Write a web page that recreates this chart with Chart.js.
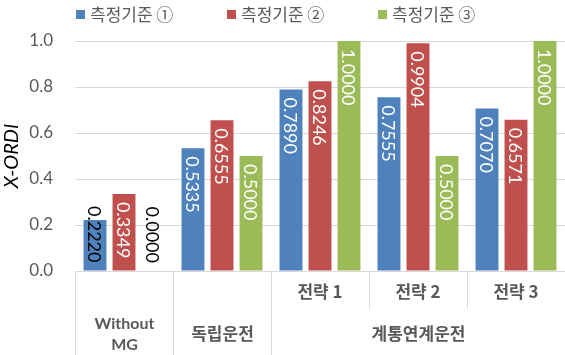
<!DOCTYPE html>
<html>
<head>
<meta charset="utf-8">
<script src="https://cdn.jsdelivr.net/npm/chart.js@4.4.1/dist/chart.umd.min.js"></script>
<style>
  html, body { margin: 0; padding: 0; background: #fff; }
  #wrap { width: 565px; height: 355px; }
</style>
</head>
<body>
<div id="wrap"><canvas id="chart"></canvas></div>
<script>
// chart data
const categories = ['Without MG', '독립운전', '전략 1', '전략 2', '전략 3'];
const topLabels = ['', '', '전략 1', '전략 2', '전략 3'];
const groupNames = [['Without', 'MG'], ['독립운전'], ['계통연계운전']];
const groupSpans = [1, 1, 3];
const seriesNames = ['측정기준 ①', '측정기준 ②', '측정기준 ③'];
const series1 = [0.2220, 0.5335, 0.7890, 0.7555, 0.7070];
const series2 = [0.3349, 0.6555, 0.8246, 0.9904, 0.6571];
const series3 = [0.0000, 0.5000, 1.0000, 0.5000, 1.0000];
const colors = ['#4f81bd', '#c0504d', '#9bbb59'];

const numFont = 'Lato, "Noto Sans CJK KR", sans-serif';
const krFont = '"Noto Sans CJK KR", sans-serif';
const gray = '#595959';
const lineColor = '#d9d9d9';

// value labels, rotated, near the top of each bar
const barLabels = {
  id: 'barLabels',
  afterDatasetsDraw(chart) {
    const ctx = chart.ctx;
    ctx.save();
    ctx.font = '18px ' + numFont;
    ctx.textAlign = 'left';
    ctx.textBaseline = 'middle';
    chart.data.datasets.forEach((ds, di) => {
      chart.getDatasetMeta(di).data.forEach((bar, i) => {
        const text = ds.data[i].toFixed(4);
        const w = ctx.measureText(text).width;
        const start = Math.min(bar.y + 8, bar.base - 8 - w);
        ctx.fillStyle = start < bar.y ? '#000' : '#fff';
        ctx.save();
        ctx.translate(bar.x, start);
        ctx.rotate(Math.PI / 2);
        ctx.fillText(text, 0, 1);
        ctx.restore();
      });
    });
    ctx.restore();
  }
};

// two-row category axis under the plot
const groupAxis = {
  id: 'groupAxis',
  afterDraw(chart) {
    const ctx = chart.ctx;
    const xs = chart.scales.x;
    const area = chart.chartArea;
    const half = (xs.getPixelForValue(1) - xs.getPixelForValue(0)) / 2;
    const edge = i => Math.round(xs.getPixelForValue(0) - half + i * half * 2) + 0.5;
    const bounds = [0];
    groupSpans.forEach(s => bounds.push(bounds[bounds.length - 1] + s));

    ctx.save();
    ctx.strokeStyle = lineColor;
    ctx.lineWidth = 1;
    for (let i = 0; i <= categories.length; i++) {
      const full = bounds.includes(i);
      ctx.beginPath();
      ctx.moveTo(edge(i), area.bottom);
      ctx.lineTo(edge(i), full ? chart.height : area.bottom + 38);
      ctx.stroke();
    }

    ctx.fillStyle = gray;
    ctx.textAlign = 'center';
    ctx.textBaseline = 'middle';
    ctx.font = 'bold 17px ' + krFont;
    topLabels.forEach((t, i) => {
      if (t) ctx.fillText(t, xs.getPixelForValue(i), area.bottom + 21);
    });
    groupNames.forEach((lines, g) => {
      const cx = (edge(bounds[g]) + edge(bounds[g + 1])) / 2;
      const cy = area.bottom + 63;
      ctx.font = lines.length > 1 ? 'bold 16px ' + numFont : 'bold 17px ' + krFont;
      lines.forEach((ln, k) => {
        ctx.fillText(ln, cx, cy + (k - (lines.length - 1) / 2) * 21);
      });
    });
    ctx.restore();
  }
};

// legend row at the top
const topLegend = {
  id: 'topLegend',
  afterDraw(chart) {
    const ctx = chart.ctx;
    ctx.save();
    ctx.font = '17px ' + krFont;
    ctx.textBaseline = 'middle';
    ctx.textAlign = 'left';
    seriesNames.forEach((name, i) => {
      const x = 76 + i * 151;
      ctx.fillStyle = colors[i];
      ctx.fillRect(x, 10, 9, 9);
      ctx.fillStyle = gray;
      ctx.fillText(name, x + 14, 15);
    });
    ctx.restore();
  }
};

const ctx = document.getElementById('chart').getContext('2d');
new Chart(ctx, {
  type: 'bar',
  data: {
    labels: categories,
    datasets: [series1, series2, series3].map((d, i) => ({
      label: seriesNames[i],
      data: d,
      backgroundColor: colors[i],
      categoryPercentage: 0.888,
      barPercentage: 0.79
    }))
  },
  options: {
    responsive: true,
    maintainAspectRatio: false,
    animation: false,
    layout: { padding: { top: 41, bottom: 84, right: 0, left: 0 } },
    plugins: {
      legend: { display: false },
      tooltip: { enabled: false }
    },
    scales: {
      x: { display: false },
      y: {
        min: 0,
        max: 1,
        ticks: {
          stepSize: 0.2,
          padding: 22,
          color: gray,
          font: { family: numFont, size: 17 },
          callback: v => v.toFixed(1)
        },
        grid: { color: lineColor, drawTicks: false },
        border: { display: false },
        title: {
          display: true,
          text: 'X-ORDI',
          color: '#000',
          padding: 0,
          font: { family: numFont, size: 20, style: 'italic' }
        },
        afterFit: s => { s.width = 75; }
      }
    }
  },
  plugins: [barLabels, groupAxis, topLegend]
});
</script>
</body>
</html>
